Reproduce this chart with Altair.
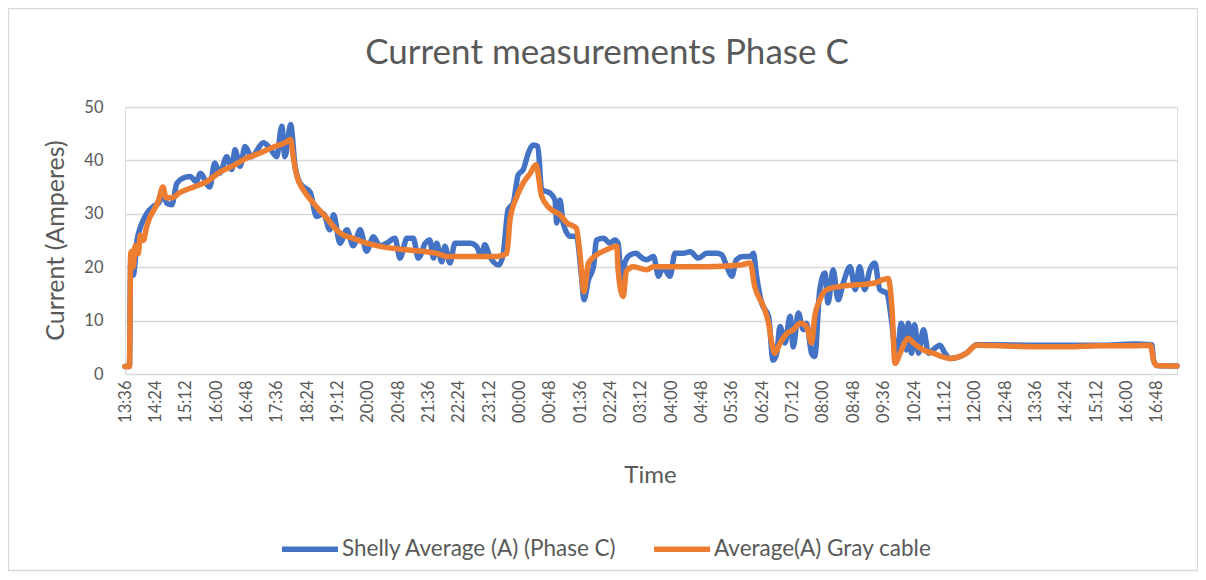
import json
import altair as alt
import pandas as pd

# ---- data (minutes after 13:36, amperes) ----
shelly_minutes = [0, 7, 9, 13, 19, 26, 34, 45, 53, 61, 66, 74, 82, 92, 103, 113, 119, 134, 142, 150,
                  161, 169, 174, 182, 190, 200, 219, 229, 240, 248, 253, 262, 269, 277, 293, 303, 314, 324, 330, 340,
                  351, 361, 372, 382, 393, 403, 414, 427, 435, 446, 456, 464, 475, 482, 488, 493, 501, 506, 514, 522,
                  535, 546, 556, 564, 569, 577, 591, 598, 606, 614, 622, 630, 638, 646, 653, 659, 672, 680, 683, 688,
                  693, 704, 714, 722, 726, 733, 741, 746, 757, 767, 775, 780, 786, 791, 799, 809, 815, 825, 836, 844,
                  851, 862, 870, 883, 894, 907, 920, 936, 944, 952, 960, 967, 978, 989, 994, 999, 1007, 1018, 1025, 1031,
                  1036, 1044, 1052, 1057, 1065, 1073, 1078, 1086, 1091, 1099, 1107, 1112, 1120, 1128, 1136, 1147, 1155, 1162, 1170, 1178,
                  1186, 1194, 1205, 1213, 1220, 1228, 1236, 1239, 1244, 1249, 1255, 1263, 1271, 1278, 1289, 1297, 1305, 1331, 1347, 1384,
                  1437, 1489, 1542, 1595, 1624, 1627, 1632, 1664]
shelly_amps = [1.4, 1.4, 21, 18.5, 25, 28, 30, 31.4, 32, 33.5, 32, 31.7, 35.7, 36.7, 37, 36, 37.6, 35, 39.5, 37.6,
               40.7, 38.3, 42, 38.9, 42.6, 40.7, 43.3, 42.3, 40.7, 46.4, 40.7, 46.7, 39, 35.7, 34, 29.5, 30, 27, 29.8, 24.5,
               27, 24, 27, 23, 25.7, 24, 24.5, 25.4, 21.7, 25.4, 25.4, 21.7, 24.5, 25.1, 21.7, 24.5, 21, 23.9, 20.8, 24.5,
               24.5, 24.5, 23.9, 22, 24.2, 22, 20.4, 22.3, 30.8, 32, 37.3, 38.3, 41.4, 42.9, 42.6, 34.5, 33.9, 32.6, 28.3, 32.6,
               28.3, 25.8, 25.8, 18.3, 13.9, 17.6, 20.1, 25.1, 25.4, 24.5, 25.1, 24.5, 15.8, 21, 22.3, 22.6, 22, 21.4, 22, 18.3,
               20.1, 18.3, 22.6, 22.6, 22.9, 21.7, 22.6, 22.6, 22.3, 20.1, 18.3, 21.4, 22, 22, 22.6, 18.3, 13.3, 10.8, 2.6, 3.9,
               8.9, 5.8, 10.8, 5.1, 11.4, 8.3, 9.5, 3.9, 3.3, 15.8, 18.9, 13.3, 19.5, 13.9, 17, 20.1, 15.8, 20.1, 15.8, 19.5,
               20.8, 15.8, 15.1, 9.5, 2.6, 9.5, 4.5, 9.5, 3.9, 9.2, 3.9, 8.3, 3.9, 4.5, 5.4, 3.9, 2.9, 3.9, 5.5, 5.5,
               5.4, 5.4, 5.4, 5.6, 5.5, 2.5, 1.6, 1.5]

gray_minutes = [0, 7, 9, 11, 13, 16, 21, 24, 29, 34, 40, 48, 53, 60, 65, 74, 87, 108, 129, 150,
                171, 192, 214, 235, 253, 262, 266, 272, 282, 298, 319, 340, 361, 382, 403, 440, 493, 509, 546, 588,
                604, 609, 620, 630, 641, 650, 659, 672, 688, 699, 714, 720, 726, 733, 746, 762, 778, 780, 788, 793,
                804, 825, 836, 867, 920, 973, 989, 996, 1010, 1018, 1023, 1028, 1036, 1047, 1057, 1068, 1078, 1086, 1091, 1099,
                1110, 1131, 1157, 1184, 1207, 1213, 1218, 1226, 1236, 1239, 1247, 1263, 1278, 1305, 1321, 1331, 1347, 1384, 1437, 1489,
                1542, 1595, 1622, 1627, 1632, 1664]
gray_amps = [1.4, 1.4, 22.6, 23, 20, 24, 22.5, 26, 25, 27.5, 29.5, 31.2, 32.5, 35, 33, 33, 34, 35, 36, 37.8,
             39, 40.4, 41.4, 42.5, 43.3, 43.9, 40.7, 37, 34.5, 32, 29.2, 26.4, 25.4, 24.5, 23.9, 23.3, 22.6, 22, 22, 22,
             22.6, 28.9, 33.3, 35.8, 37.6, 39.2, 33.3, 31, 29.8, 28.3, 27.3, 22, 15.4, 20.8, 22.3, 23.3, 23.9, 19.5, 14.5, 19.2,
             20.1, 19.5, 20.1, 20.1, 20.1, 20.4, 20.8, 16.4, 12.6, 9.5, 5.8, 3.9, 5.8, 7.6, 8.3, 9.5, 8.9, 5.8, 10.8, 13.9,
             15.8, 16.4, 16.7, 17, 17.9, 12.6, 2, 3.9, 6.4, 6.7, 5.8, 4.5, 3.9, 2.9, 3.3, 3.9, 5.4, 5.3, 5.1, 5.1,
             5.3, 5.3, 5.4, 2.5, 1.6, 1.5]

tick_labels = ["13:36", "14:24", "15:12", "16:00", "16:48", "17:36", "18:24", "19:12", "20:00", "20:48",
               "21:36", "22:24", "23:12", "00:00", "00:48", "01:36", "02:24", "03:12", "04:00", "04:48",
               "05:36", "06:24", "07:12", "08:00", "08:48", "09:36", "10:24", "11:12", "12:00", "12:48",
               "13:36", "14:24", "15:12", "16:00", "16:48"]
tick_step = 48
series_names = ["Shelly Average (A) (Phase C)", "Average(A) Gray cable"]
series_colors = ["#4472C4", "#ED7D31"]
chart_title = "Current measurements Phase C"

FONT = "Lato"
TXT = "#595959"
GRID = "#D9D9D9"
W, H = 1052, 267

shelly = pd.DataFrame({"minute": shelly_minutes, "amps": shelly_amps, "series": series_names[0]})
gray = pd.DataFrame({"minute": gray_minutes, "amps": gray_amps, "series": series_names[1]})

tick_values = [i * tick_step for i in range(len(tick_labels))]
label_expr = json.dumps(tick_labels) + f"[round(datum.value / {tick_step})]"

x_enc = alt.X("minute:Q",
              scale=alt.Scale(domain=[0, 1664], nice=False, zero=False),
              axis=alt.Axis(values=tick_values, labelExpr=label_expr, labelAngle=270,
                            grid=False, domain=False, ticks=False, labelPadding=6,
                            labelFont=FONT, labelFontSize=16.5, labelColor=TXT, labelOverlap=False,
                            labelFlush=False,
                            title="Time", titleFont=FONT, titleFontSize=24, titleFontWeight="normal",
                            titleColor=TXT, titleX=525, titleY=101, titleAlign="center",
                            titleBaseline="middle"))
y_enc = alt.Y("amps:Q",
              scale=alt.Scale(domain=[0, 50], nice=False),
              axis=alt.Axis(values=[0, 10, 20, 30, 40, 50], grid=True, gridColor=GRID, gridWidth=1.3,
                            domain=False, ticks=False, labelPadding=22,
                            labelFont=FONT, labelFontSize=16.5, labelColor=TXT,
                            title="Current (Amperes)", titleFont=FONT, titleFontSize=25,
                            titleFontWeight="normal", titleColor=TXT, titleX=-70, titleY=133,
                            titleAngle=270, titleAlign="center", titleBaseline="middle"))

color_scale = alt.Scale(domain=series_names, range=series_colors)
legend = alt.Legend(title=None, orient="none", direction="horizontal", legendX=154, legendY=411,
                    symbolType="stroke", symbolSize=3136, symbolStrokeWidth=5.5,
                    labelFont=FONT, labelFontSize=22.5, labelColor=TXT, labelOffset=1,
                    columnPadding=26, labelLimit=400)
color_enc = alt.Color("series:N", scale=color_scale, legend=legend, sort=series_names)

one_row = pd.DataFrame({"a": [0]})
border = alt.Chart(one_row).mark_rect(
    fill=None, stroke=GRID, strokeWidth=1.3).encode(
    x=alt.value(-116.5), x2=alt.value(W + 20.5), y=alt.value(-98.5), y2=alt.value(H + 196.5))

title = alt.Chart(one_row).mark_text(
    font=FONT, fontSize=35, color=TXT, align="center", baseline="alphabetic").encode(
    x=alt.value(482), y=alt.value(-43), text=alt.value(chart_title))

blue = alt.Chart(shelly).mark_line(strokeWidth=5.5, interpolate="monotone", strokeCap="round",
                                   strokeJoin="round").encode(x=x_enc, y=y_enc, color=color_enc)
orange = alt.Chart(gray).mark_line(strokeWidth=5.5, interpolate="monotone", strokeCap="round",
                                   strokeJoin="round").encode(x=x_enc, y=y_enc, color=color_enc)

chart = alt.layer(border, title, blue, orange).properties(
    width=W, height=H,
    autosize=alt.AutoSizeParams(type="none"),
    padding={"left": 117, "top": 99, "right": 21, "bottom": 198},
).configure_view(stroke=None).configure(background="white")

chart.save("out.html", embed_options={"renderer": "svg", "actions": False})
